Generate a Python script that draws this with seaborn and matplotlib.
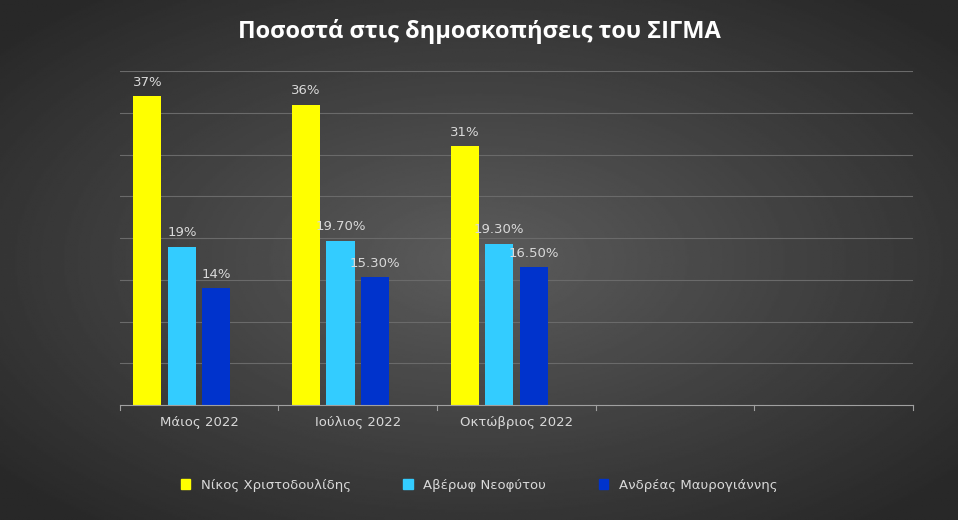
import numpy as np
import pandas as pd
import seaborn as sns
import matplotlib.pyplot as plt
from matplotlib.patches import Patch

# data
months = ["Μάιος 2022", "Ιούλιος 2022", "Οκτώβριος 2022", " ", "  "]
candidates = ["Νίκος Χριστοδουλίδης", "Αβέρωφ Νεοφύτου", "Ανδρέας Μαυρογιάννης"]
christodoulidis = [37, 36, 31]
neofytou = [19, 19.7, 19.3]
mavrogiannis = [14, 15.3, 16.5]
labels = [["37%", "36%", "31%"], ["19%", "19.70%", "19.30%"], ["14%", "15.30%", "16.50%"]]
colors = ["#FFFF00", "#33CCFF", "#0033CC"]

rows = []
for cand, vals in zip(candidates, [christodoulidis, neofytou, mavrogiannis]):
    for m, v in zip(months[:3], vals):
        rows.append({"month": m, "cand": cand, "value": v})
# empty 4th series keeps Excel-like group offset
rows.append({"month": months[0], "cand": "_blank", "value": np.nan})
df = pd.DataFrame(rows)

fig = plt.figure(figsize=(9.58, 5.2), dpi=100)

# radial dark background
bg = fig.add_axes([0, 0, 1, 1], zorder=-10)
yy, xx = np.mgrid[-1:1:300j, -1:1:550j]
r = np.sqrt(xx**2 + yy**2)
bg.imshow(0.36 - 0.2 * np.clip(r / 1.3, 0, 1), cmap="gray", vmin=0, vmax=1,
          aspect="auto", extent=[0, 1, 0, 1])
bg.axis("off")

ax = fig.add_axes([0.125, 0.221, 0.828, 0.642])
ax.patch.set_alpha(0)
sns.barplot(data=df, x="month", y="value", hue="cand", order=months,
            hue_order=candidates + ["_blank"],
            palette=colors + ["#000000"], width=0.87, ax=ax,
            legend=False, err_kws={"linewidth": 0}, saturation=1)

# narrow bars to leave gaps between them
for cont in ax.containers:
    for bar in cont:
        c = bar.get_x() + bar.get_width() / 2
        bar.set_width(0.177)
        bar.set_x(c - 0.0885)

for cont, labs in zip(ax.containers[:3], labels):
    for bar, lab in zip(cont, labs):
        ax.text(bar.get_x() + bar.get_width() / 2, bar.get_height() + 0.9, lab,
                ha="center", va="bottom", color="#d9d9d9", fontsize=9.5)

ax.set_ylim(0, 40)
ax.set_xlim(-0.5, 4.5)
ax.set_yticks(range(5, 41, 5))
ax.set_yticklabels([])
ax.tick_params(axis="y", length=0)
ax.grid(axis="y", color="#6a6a6a", linewidth=0.8)
ax.set_axisbelow(True)
for s in ["top", "right", "left"]:
    ax.spines[s].set_visible(False)
ax.spines["bottom"].set_color("#a0a0a0")
ax.set_xticks(np.arange(5))
ax.set_xticklabels(months, color="#d9d9d9", fontsize=9.5)
ax.tick_params(axis="x", length=0, pad=8)
for b in np.arange(-0.5, 5, 1):
    ax.plot([b, b], [0, -0.6], color="#a0a0a0", lw=0.8, clip_on=False)
ax.set_xlabel("")
ax.set_ylabel("")

fig.text(0.5, 0.94, "Ποσοστά στις δημοσκοπήσεις του ΣΙΓΜΑ", ha="center",
         va="center", color="white", fontsize=17, fontweight="bold",
         family="Open Sans")

handles = [Patch(color=c, label=l) for c, l in zip(colors, candidates)]
fig.legend(handles=handles, loc="center", bbox_to_anchor=(0.5, 0.067), ncol=3,
           frameon=False, labelcolor="#d9d9d9", fontsize=9.5, handlelength=0.7,
           handleheight=0.7, columnspacing=4)

fig.savefig("out.png", dpi=100)
